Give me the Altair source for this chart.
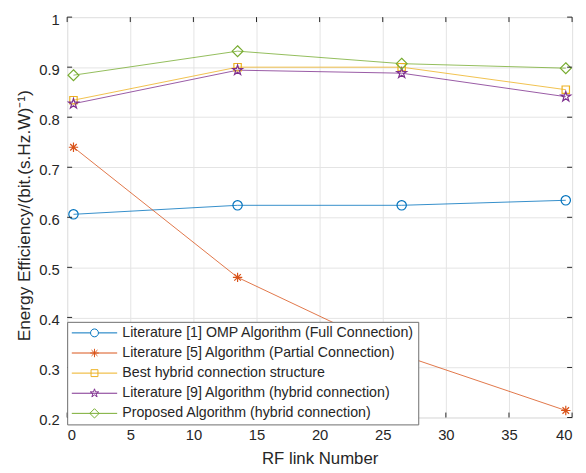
import altair as alt
import pandas as pd

# ---------------- data ----------------
rf_links = [0.5, 13.5, 26.5, 39.5]
series_names = [
    "Literature [1] OMP Algorithm (Full Connection)",
    "Literature [5] Algorithm (Partial Connection)",
    "Best hybrid connection structure",
    "Literature [9] Algorithm (hybrid connection)",
    "Proposed Algorithm (hybrid connection)",
]
omp_full = [0.606, 0.624, 0.624, 0.634]
lit5_partial = [0.740, 0.480, 0.325, 0.214]
best_hybrid = [0.834, 0.900, 0.900, 0.855]
lit9_hybrid = [0.827, 0.894, 0.888, 0.841]
proposed = [0.884, 0.932, 0.907, 0.898]
series_values = [omp_full, lit5_partial, best_hybrid, lit9_hybrid, proposed]

x_ticks = [0, 5, 10, 15, 20, 25, 30, 35, 40]
y_ticks = [0.2, 0.3, 0.4, 0.5, 0.6, 0.7, 0.8, 0.9, 1.0]

# ---------------- styles ----------------
colors = ["#0072BD", "#D95319", "#EDB120", "#7E2F8E", "#77AC30"]

circle_p = "M1,0A1,1 0 1,1 -1,0A1,1 0 1,1 1,0Z"
aster_p = "M-1,0L1,0M0,-1L0,1M-0.7,-0.7L0.7,0.7M-0.7,0.7L0.7,-0.7"
square_p = "M-1,-1L1,-1L1,1L-1,1Z"
star_p = ("M0,-1L0.2245,-0.309L0.951,-0.309L0.363,0.118L0.588,0.809L0,0.382"
          "L-0.588,0.809L-0.363,0.118L-0.951,-0.309L-0.2245,-0.309Z")
diamond_p = "M0,-1L1,0L0,1L-1,0Z"
marker_paths = [circle_p, aster_p, square_p, star_p, diamond_p]
marker_sizes = [90, 90, 56, 110, 121]

# legend symbols: line + marker (symbolSize 100 -> 5 px per unit)
leg_line = "M-4.6,0L4.6,0"
legend_paths = [
    "M-4.6,0L-0.8,0M0.8,0L4.6,0M0.8,0A0.8,0.8 0 1,1 -0.8,0A0.8,0.8 0 1,1 0.8,0Z",
    leg_line + "M-0.85,0L0.85,0M0,-0.85L0,0.85M-0.6,-0.6L0.6,0.6M-0.6,0.6L0.6,-0.6",
    leg_line + "M-0.7,-0.7L0.7,-0.7L0.7,0.7L-0.7,0.7Z",
    leg_line + ("M0,-0.9L0.202,-0.278L0.856,-0.278L0.327,0.106L0.529,0.728L0,0.344"
                "L-0.529,0.728L-0.327,0.106L-0.856,-0.278L-0.202,-0.278Z"),
    leg_line + "M0,-0.95L0.95,0L0,0.95L-0.95,0Z",
]

FONT = "Liberation Sans"
AX = "#262626"
W, H = 512, 406

rows = []
for name, vals in zip(series_names, series_values):
    for xv, yv in zip(rf_links, vals):
        rows.append({"series": name, "rf": xv, "ee": yv})
df = pd.DataFrame(rows)

xscale = alt.Scale(domain=[0, 40], nice=False, zero=False)
yscale = alt.Scale(domain=[0.2, 1.0], nice=False, zero=False)

x_axis = alt.Axis(values=x_ticks, title="RF link Number", ticks=False, domain=False,
                  grid=True, gridColor="#e4e4e4", labelFont=FONT, labelFontSize=15,
                  labelColor=AX, labelPadding=10, titleFont=FONT, titleFontSize=17,
                  titleFontWeight="normal", titleColor=AX, titleX=256, titleY=47,
                  titleBaseline="alphabetic", titleAlign="center")
y_axis = alt.Axis(values=y_ticks, format="~g", title="Energy Efficiency/(bit.(s.Hz.W)⁻¹)",
                  ticks=False, domain=False, grid=True, gridColor="#e4e4e4",
                  labelFont=FONT, labelFontSize=15, labelColor=AX, labelPadding=8,
                  labelOffset=2, titleFont=FONT, titleFontSize=17.5,
                  titleFontWeight="normal", titleColor=AX, titleAngle=270,
                  titleX=-38, titleY=201, titleBaseline="alphabetic", titleAlign="center")

X = alt.X("rf:Q", scale=xscale, axis=x_axis)
Y = alt.Y("ee:Q", scale=yscale, axis=y_axis)

layers = []
for i, name in enumerate(series_names):
    sub = df[df["series"] == name]
    layers.append(
        alt.Chart(sub).mark_line(color=colors[i], strokeWidth=0.8).encode(x=X, y=Y)
    )
for i, name in enumerate(series_names):
    sub = df[df["series"] == name]
    layers.append(
        alt.Chart(sub).mark_point(shape=marker_paths[i], size=marker_sizes[i],
                                  filled=False, color=colors[i], strokeWidth=1.2,
                                  opacity=1).encode(x=X, y=Y)
    )

leg = alt.Legend(orient="none", legendX=0, legendY=309, title=None,
                 padding=4, rowPadding=5.4, symbolSize=100,
                 symbolOffset=16.5, labelOffset=21,
                 labelFont=FONT, labelFontSize=14.4, labelColor=AX,
                 labelLimit=0, fillColor="white",
                 strokeColor="#6e6e6e", symbolStrokeWidth=1,
                 symbolOpacity=1, cornerRadius=0)

# invisible layer that carries the legend
layers.append(
    alt.Chart(df).mark_point(filled=False, opacity=0).encode(
        x=X, y=Y,
        color=alt.Color("series:N", scale=alt.Scale(domain=series_names, range=colors),
                        sort=series_names, legend=leg),
        shape=alt.Shape("series:N", scale=alt.Scale(domain=series_names, range=legend_paths),
                        sort=series_names, legend=leg),
    )
)

# inward ticks on all four sides
xt = pd.DataFrame({"rf": x_ticks})
yt = pd.DataFrame({"ee": y_ticks})
layers.append(alt.Chart(xt).mark_rule(color=AX, strokeWidth=1).encode(
    x=X, y=alt.value(H), y2=alt.value(H - 5)))
layers.append(alt.Chart(xt).mark_rule(color=AX, strokeWidth=1).encode(
    x=X, y=alt.value(0), y2=alt.value(5)))
layers.append(alt.Chart(yt).mark_rule(color=AX, strokeWidth=1).encode(
    y=Y, x=alt.value(0), x2=alt.value(5)))
layers.append(alt.Chart(yt).mark_rule(color=AX, strokeWidth=1).encode(
    y=Y, x=alt.value(W), x2=alt.value(W - 5)))

chart = alt.layer(*layers).properties(
    width=W, height=H,
    padding={"left": 60, "top": 6, "right": 6, "bottom": 51},
    autosize=alt.AutoSizeParams(type="none"),
).configure_view(stroke="#4a4a4a", strokeWidth=1).configure(background="white")

chart.save("out.html", embed_options={"renderer": "svg", "actions": False})
